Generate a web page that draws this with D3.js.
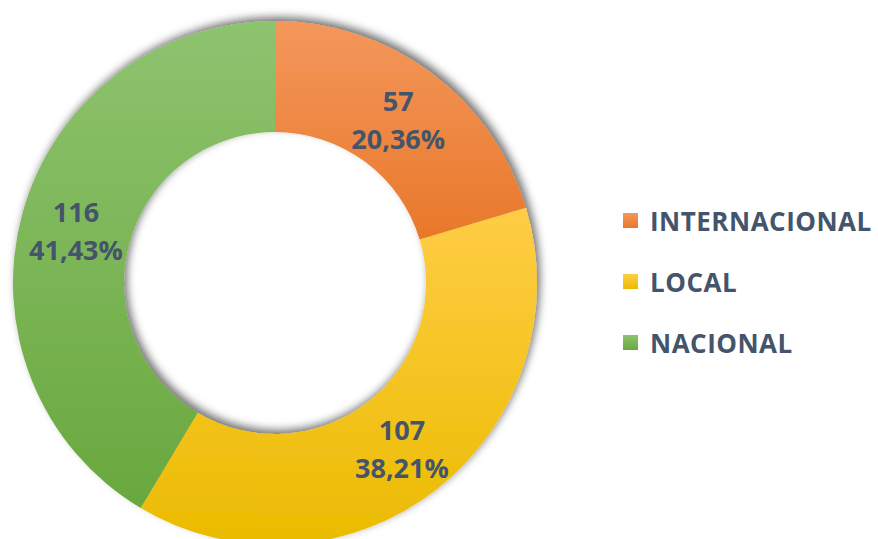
<!DOCTYPE html>
<html lang="es">
<head>
<meta charset="UTF-8">
<title>Donut</title>
<style>
  body { margin: 0; background: #fff; }
  svg { display: block; }
  .lbl { font-family: "Open Sans", sans-serif; font-weight: 700; fill: #44546A; }
</style>
<script src="https://d3js.org/d3.v7.min.js"></script>
</head>
<body>
<svg id="chart"></svg>
<script>
// data
const categories = ["INTERNACIONAL", "LOCAL", "NACIONAL"];
const values = [57, 107, 116];
const percentLabels = ["20,36%", "38,21%", "41,43%"];
const colorsTop = ["#F4975C", "#FFCD45", "#8EC36F"];
const colorsBottom = ["#E8782A", "#EBBB00", "#69A83E"];

const width = 878, height = 539;
const cx = 275, cy = 283;
const outerR = 262, innerR = 151;

const svg = d3.select("#chart").attr("width", width).attr("height", height);
const defs = svg.append("defs");

categories.forEach((c, i) => {
  const g = defs.append("linearGradient")
    .attr("id", "grad" + i)
    .attr("x1", 0).attr("y1", 0).attr("x2", 0).attr("y2", 1);
  g.append("stop").attr("offset", "0%").attr("stop-color", colorsTop[i]);
  g.append("stop").attr("offset", "100%").attr("stop-color", colorsBottom[i]);
});

const shadow = defs.append("filter").attr("id", "shadow")
  .attr("x", "-20%").attr("y", "-20%").attr("width", "140%").attr("height", "140%");
shadow.append("feDropShadow")
  .attr("dx", 3).attr("dy", -4).attr("stdDeviation", 4)
  .attr("flood-color", "#000").attr("flood-opacity", 0.55);

const pie = d3.pie().sort(null).value(d => d)(values);
const arc = d3.arc().innerRadius(innerR).outerRadius(outerR);
const labelArc = d3.arc().innerRadius((innerR + outerR) / 2).outerRadius((innerR + outerR) / 2);

const g = svg.append("g").attr("transform", `translate(${cx},${cy})`);

g.append("g").attr("filter", "url(#shadow)")
  .selectAll("path")
  .data(pie)
  .join("path")
  .attr("d", arc)
  .attr("fill", (d, i) => `url(#grad${i})`);

const labels = g.selectAll("text.lbl")
  .data(pie)
  .join("text")
  .attr("class", "lbl")
  .attr("text-anchor", "middle")
  .attr("font-size", 27)
  .attr("transform", d => `translate(${labelArc.centroid(d)})`);

labels.append("tspan").attr("x", 0).attr("y", -6).text(d => d.value);
labels.append("tspan").attr("x", 0).attr("y", 32).text((d, i) => percentLabels[i]);

// legend
const legend = svg.append("g").attr("transform", "translate(623,213)");
const item = legend.selectAll("g")
  .data(categories)
  .join("g")
  .attr("transform", (d, i) => `translate(0,${i * 61})`);

item.append("rect")
  .attr("width", 15).attr("height", 15)
  .attr("fill", (d, i) => `url(#grad${i})`);

item.append("text")
  .attr("class", "lbl")
  .attr("x", 27).attr("y", 18)
  .attr("font-size", 26)
  .attr("letter-spacing", 0.5)
  .text(d => d);
</script>
</body>
</html>
